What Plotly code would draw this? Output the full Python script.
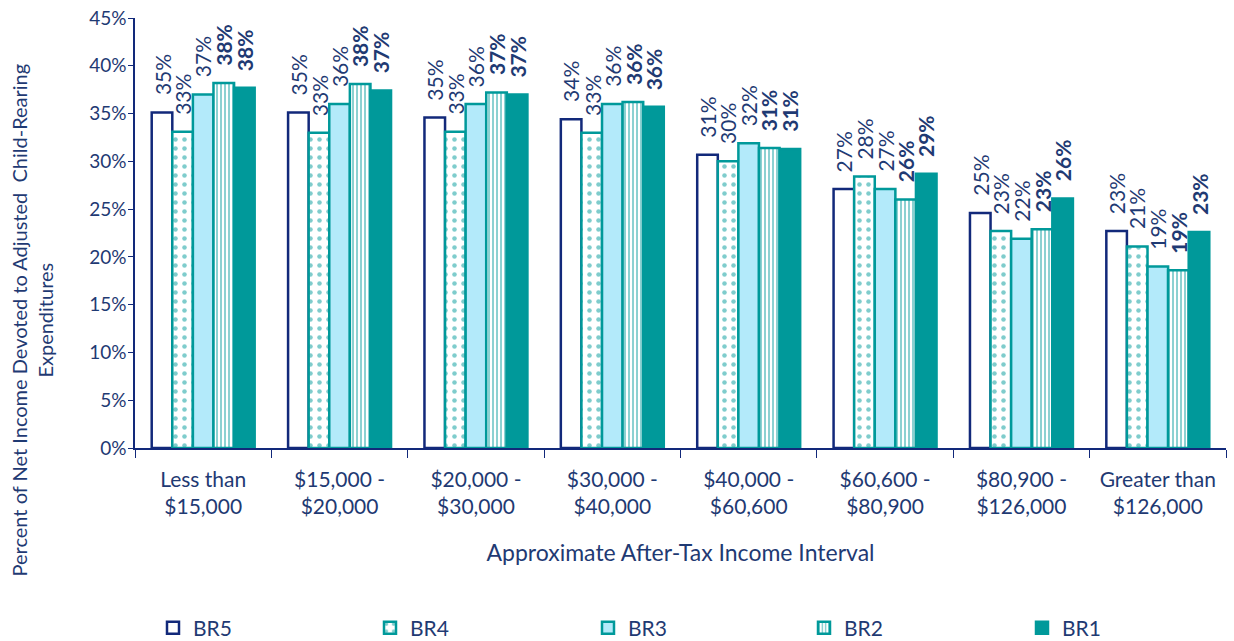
import plotly.graph_objects as go

# Income intervals (x categories)
categories = [
    "Less than<br>$15,000",
    "$15,000 -<br>$20,000",
    "$20,000 -<br>$30,000",
    "$30,000 -<br>$40,000",
    "$40,000 -<br>$60,600",
    "$60,600 -<br>$80,900",
    "$80,900 -<br>$126,000",
    "Greater than<br>$126,000",
]

# Share of net income devoted to adjusted child-rearing expenditures
br5 = [0.351, 0.351, 0.346, 0.344, 0.307, 0.271, 0.246, 0.227]
br4 = [0.331, 0.330, 0.331, 0.330, 0.300, 0.284, 0.227, 0.211]
br3 = [0.370, 0.360, 0.360, 0.360, 0.319, 0.271, 0.219, 0.190]
br2 = [0.382, 0.381, 0.372, 0.362, 0.314, 0.260, 0.229, 0.186]
br1 = [0.377, 0.374, 0.370, 0.357, 0.313, 0.287, 0.261, 0.226]

series_names = ["BR5", "BR4", "BR3", "BR2", "BR1"]
series_values = [br5, br4, br3, br2, br1]

NAVY_TEXT = "#1F3A73"
NAVY = "#12297A"
TEAL = "#00999A"
LIGHT = "#B3EAFA"
FONT = "Lato"

W, H = 1234, 641
ML, MR, MT, MB = 135, 8, 18, 193
BARGAP = 0.245

styles = {
    "BR5": dict(color="white", line=dict(color=NAVY, width=2.5)),
    "BR4": dict(color="white", line=dict(color=TEAL, width=2.5),
                pattern=dict(shape=".", fgcolor=TEAL, bgcolor="white",
                             size=9, solidity=0.2, fillmode="overlay")),
    "BR3": dict(color=LIGHT, line=dict(color=TEAL, width=2.5)),
    "BR2": dict(color="white", line=dict(color=TEAL, width=2.5),
                pattern=dict(shape="|", fgcolor=TEAL, bgcolor="white",
                             size=4, solidity=0.45, fillmode="overlay")),
    "BR1": dict(color=TEAL, line=dict(color=TEAL, width=2.5)),
}

plot_w = W - ML - MR
plot_h = H - MT - MB

# Each series gets its own legend box, spread along the bottom of the figure
legend_ids = ["legend", "legend2", "legend3", "legend4", "legend5"]
legend_left_px = [153, 370, 588, 804, 1022]

fig = go.Figure()
for name, vals, lid in zip(series_names, series_values, legend_ids):
    fig.add_trace(go.Bar(x=categories, y=vals, name=name, marker=styles[name],
                         legend=lid, showlegend=True))


def pct_label(v):
    # round half up, as a spreadsheet would
    return f"{int(v * 100 + 0.5)}%"


# Rotated value labels above each bar
bar_w = plot_w / len(categories) * (1 - BARGAP) / len(series_names)
annotations = []
for i, (name, vals) in enumerate(zip(series_names, series_values)):
    bold = name in ("BR2", "BR1")
    for j, v in enumerate(vals):
        txt = pct_label(v)
        if bold:
            txt = f"<b>{txt}</b>"
        annotations.append(dict(
            x=j, y=v, xref="x", yref="y",
            xshift=(i - (len(series_names) - 1) / 2) * bar_w,
            yshift=15, text=txt, textangle=-90, showarrow=False,
            xanchor="center", yanchor="bottom",
            font=dict(family=FONT, size=21, color=NAVY_TEXT),
        ))

# Two-line y-axis title, centred on the full figure height
annotations.append(dict(
    x=(32 - ML) / plot_w, y=(H - MB - H / 2) / plot_h,
    xref="paper", yref="paper",
    text="Percent of Net Income Devoted to Adjusted  Child-Rearing<br>Expenditures",
    textangle=-90, showarrow=False, xanchor="center", yanchor="middle",
    font=dict(family=FONT, size=20, color=NAVY_TEXT),
))

layout_legends = {}
for lid, px in zip(legend_ids, legend_left_px):
    layout_legends[lid] = dict(
        orientation="h", x=(px - ML) / plot_w, xanchor="left",
        y=(H - MB - 628) / plot_h, yanchor="middle",
        font=dict(family=FONT, size=21, color=NAVY_TEXT),
        bgcolor="rgba(0,0,0,0)", itemwidth=30, visible=True,
    )

fig.update_layout(
    width=W, height=H, showlegend=True,
    margin=dict(l=ML, r=MR, t=MT, b=MB, pad=0, autoexpand=False),
    paper_bgcolor="white", plot_bgcolor="white",
    barmode="group", bargap=BARGAP, bargroupgap=0,
    font=dict(family=FONT, color=NAVY_TEXT),
    annotations=annotations,
    **layout_legends,
)

fig.update_xaxes(
    type="category", showline=True, linecolor=NAVY, linewidth=1.5,
    ticks="outside", tickson="boundaries", ticklen=8, tickcolor=NAVY,
    tickfont=dict(family=FONT, size=21, color=NAVY_TEXT),
    ticklabelstandoff=12, automargin=False,
    showgrid=False, zeroline=False,
    title=dict(text="Approximate After-Tax Income Interval",
               font=dict(family=FONT, size=23, color=NAVY_TEXT), standoff=28),
)
fig.update_yaxes(
    range=[0, 0.45], dtick=0.05, tickformat=".0%",
    showline=True, linecolor=NAVY, linewidth=1.5,
    ticks="outside", ticklen=5, tickcolor=NAVY,
    tickfont=dict(family=FONT, size=19, color=NAVY_TEXT),
    ticklabelstandoff=-2,
    automargin=False, showgrid=False, zeroline=False,
)

fig.write_html("out.html")
